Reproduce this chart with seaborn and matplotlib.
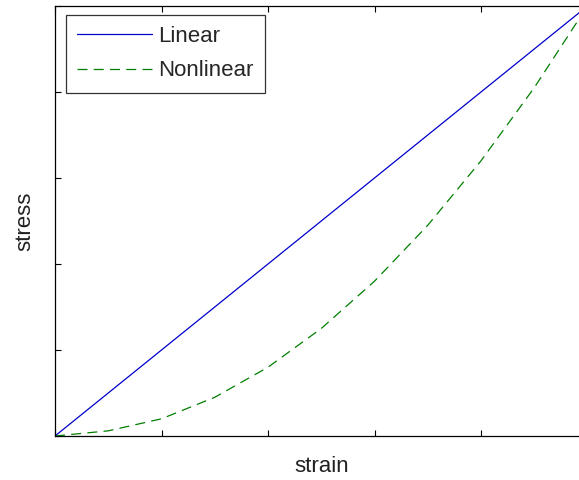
import matplotlib
matplotlib.use("Agg")
import matplotlib.pyplot as plt
import seaborn as sns
import pandas as pd

strain = [0.0, 0.1, 0.2, 0.3, 0.4, 0.5, 0.6, 0.7, 0.8, 0.9, 1.0]
linear_stress = [0.0, 0.1, 0.2, 0.3, 0.4, 0.5, 0.6, 0.7, 0.8, 0.9, 1.0]
nonlinear_stress = [0.0, 0.012, 0.04, 0.09, 0.16, 0.25, 0.36, 0.49, 0.64, 0.81, 1.0]
series_names = ["Linear", "Nonlinear"]

sns.set_theme(style="white")
plt.rcParams["font.family"] = ["Liberation Sans", "DejaVu Sans"]

fig = plt.figure(figsize=(5.79, 4.8), dpi=100)
ax = fig.add_axes([55/579, 44/480, (587.5-55)/579, (436-6)/480])

df_lin = pd.DataFrame({"strain": strain, "stress": linear_stress})
df_non = pd.DataFrame({"strain": strain, "stress": nonlinear_stress})
sns.lineplot(data=df_lin, x="strain", y="stress", ax=ax, color="#0000cc",
             linewidth=0.9, label=series_names[0])
sns.lineplot(data=df_non, x="strain", y="stress", ax=ax, color="#007f00",
             linewidth=0.9, linestyle=(0, (8, 5)), label=series_names[1])

ax.set_xlim(0, 1)
ax.set_ylim(0, 1)
ax.set_xticks([0, 0.2, 0.4, 0.6, 0.8, 1.0])
ax.set_yticks([0, 0.2, 0.4, 0.6, 0.8, 1.0])
ax.set_xticklabels([])
ax.set_yticklabels([])
ax.tick_params(direction="in", length=4, width=0.8, color="black",
               top=True, right=True, bottom=True, left=True)
for s in ax.spines.values():
    s.set_color("black")
    s.set_linewidth(0.9)
    s.set_visible(True)
ax.set_xlabel("strain", fontsize=16, color="#222222", labelpad=11)
ax.set_ylabel("stress", fontsize=16, color="#222222", labelpad=10.5)

leg = ax.legend(loc="upper left", bbox_to_anchor=(11/532, 1 - 9/430),
                fontsize=16, frameon=True, fancybox=False, handlelength=3.35,
                borderpad=0.5, labelspacing=0.6, handletextpad=0.3,
                borderaxespad=0)
leg.get_frame().set_edgecolor("black")
leg.get_frame().set_linewidth(0.9)

fig.savefig("out.png", dpi=100)
